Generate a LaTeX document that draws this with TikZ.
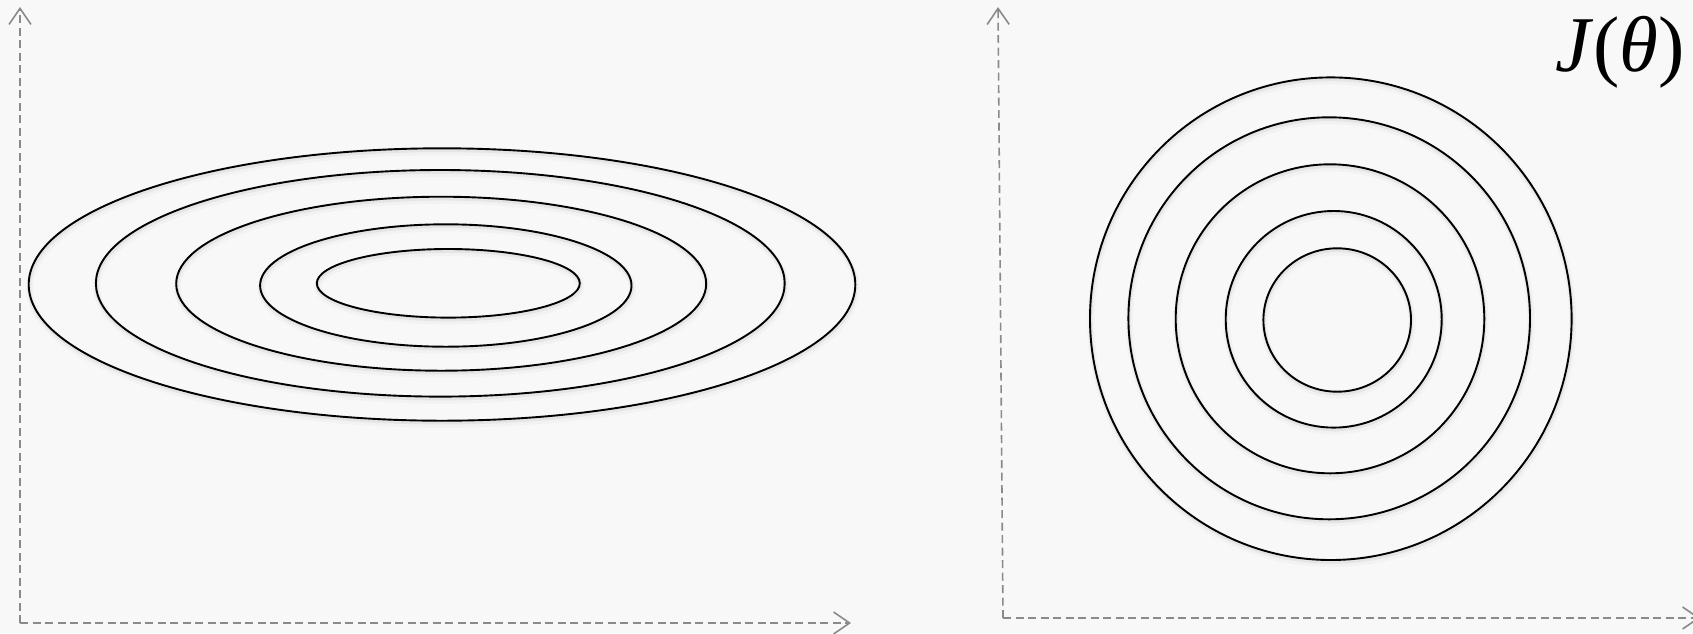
\documentclass[tikz,border=0pt]{standalone}
\usepackage{fontspec}
\setmainfont{Liberation Serif}
\usetikzlibrary{arrows.meta}
\definecolor{bg}{HTML}{F8F8F8}
\definecolor{axisgrey}{HTML}{8A8A8A}
\tikzset{
  axis/.style={draw=axisgrey, line width=1.6pt, dash pattern=on 8pt off 4.5pt,
    -{Straight Barb[length=16pt,width=22pt,line width=1.6pt]}},
  contour/.style={draw=black, line width=1.9pt},
  shadowA/.style={draw=black!5, line width=7pt},
  shadowB/.style={draw=black!10, line width=3.5pt},
}
\begin{document}
\begin{tikzpicture}[x=1pt,y=-1pt]
\fill[bg] (0,0) rectangle (1693,633);
\useasboundingbox (0,0) rectangle (1693,633);

% left axes
\coordinate (lo) at (20,623);
\coordinate (ly) at (20,7);
\coordinate (lx) at (851,623);
\draw[axis] (lo) -- (ly);
\draw[axis] (lo) -- (lx);

% right axes
\coordinate (ro) at (1003,618);
\coordinate (ry) at (998,7);
\coordinate (rx) at (1700,618);
\draw[axis] (ro) -- (ry);
\draw[axis] (ro) -- (rx);

% ellipses
\foreach \cx/\cy/\a/\b in {442/284.5/413.3/136.2, 440.3/283.3/344.4/113.3, 441.2/283.7/265/87, 445.8/285.5/185.7/61.2, 448.3/283.3/131.5/34.3}{
  \draw[shadowA] (\cx+1,\cy+3.5) ellipse [x radius=\a, y radius=\b];
  \draw[shadowB] (\cx+0.5,\cy+2) ellipse [x radius=\a, y radius=\b];
}
\foreach \cx/\cy/\a/\b in {442/284.5/413.3/136.2, 440.3/283.3/344.4/113.3, 441.2/283.7/265/87, 445.8/285.5/185.7/61.2, 448.3/283.3/131.5/34.3}{
  \draw[contour] (\cx,\cy) ellipse [x radius=\a, y radius=\b];
}

% circles
\foreach \cx/\cy/\a/\b in {1330.8/318.7/240.8/241.3, 1329.2/318.3/200.8/201, 1330/318.8/154.3/154.5, 1333.7/319.3/108/108.3, 1337.2/320/73.8/71.7}{
  \draw[shadowA] (\cx+1,\cy+3.5) ellipse [x radius=\a, y radius=\b];
  \draw[shadowB] (\cx+0.5,\cy+2) ellipse [x radius=\a, y radius=\b];
}
\foreach \cx/\cy/\a/\b in {1330.8/318.7/240.8/241.3, 1329.2/318.3/200.8/201, 1330/318.8/154.3/154.5, 1333.7/319.3/108/108.3, 1337.2/320/73.8/71.7}{
  \draw[contour] (\cx,\cy) ellipse [x radius=\a, y radius=\b];
}

\node[inner sep=0pt, anchor=center] (J) at (1620,52)
  {\fontsize{79}{82}\selectfont\textit{J}(\textit{θ})};
\end{tikzpicture}
\end{document}
